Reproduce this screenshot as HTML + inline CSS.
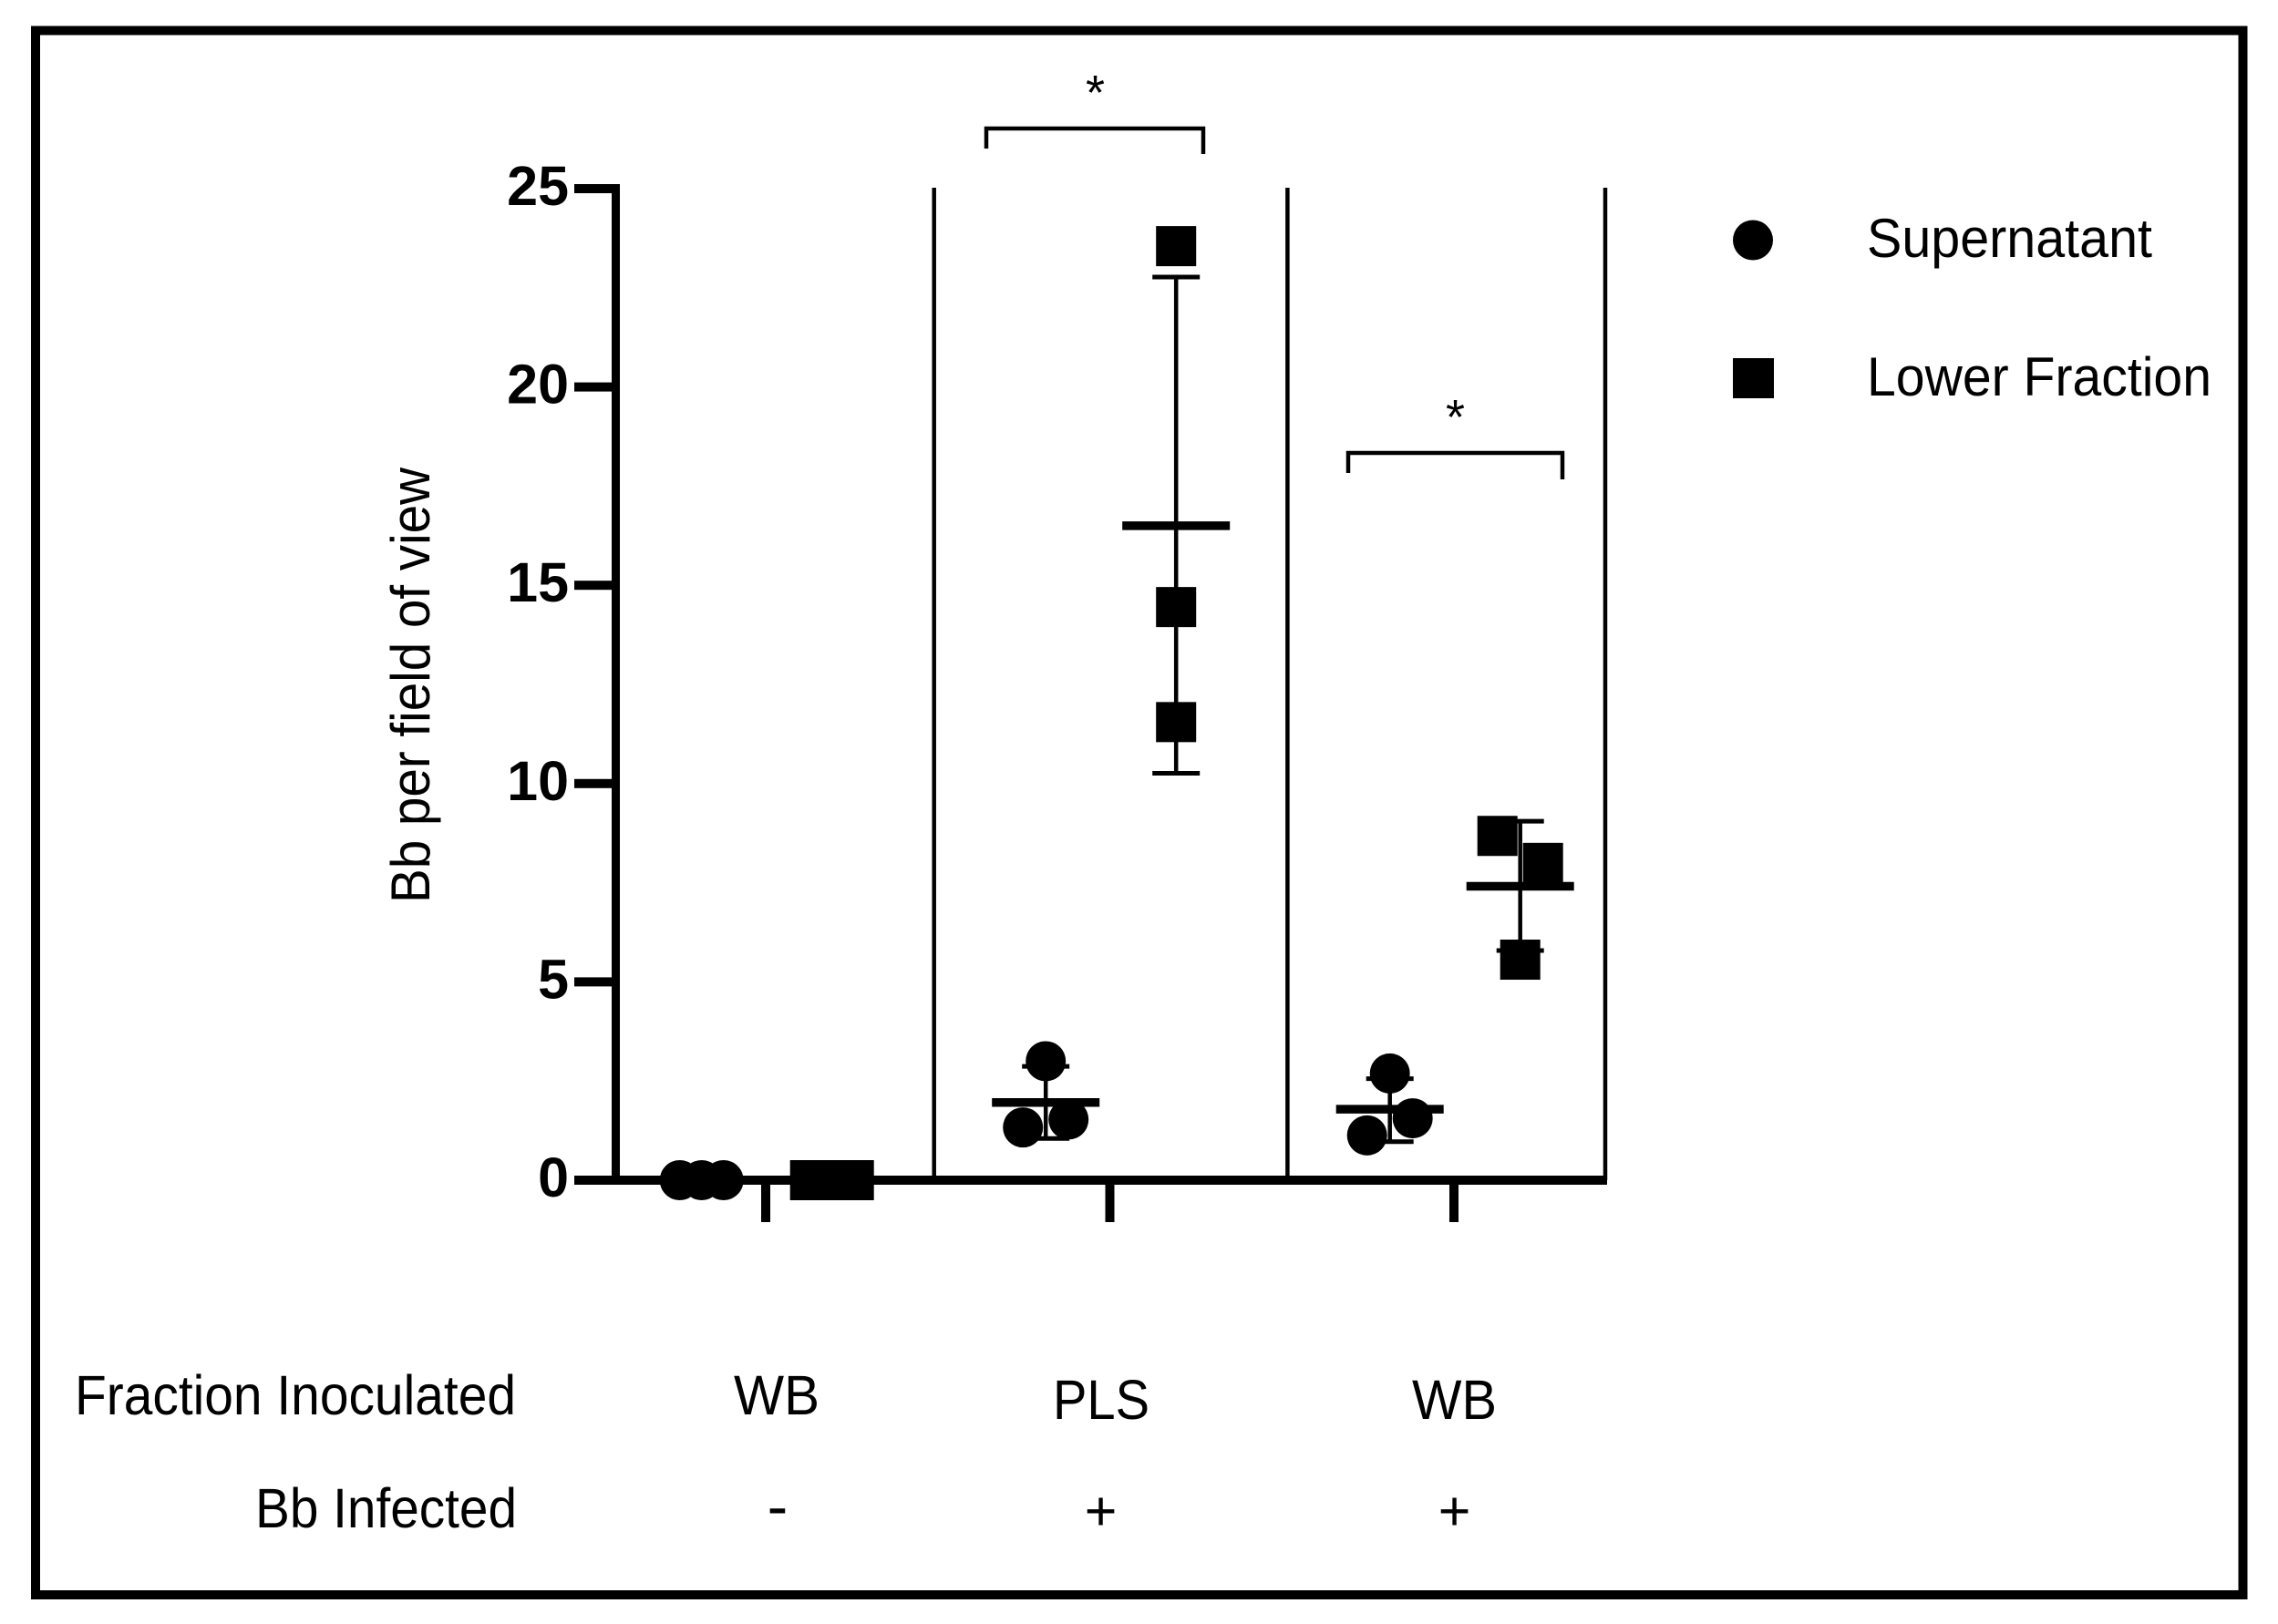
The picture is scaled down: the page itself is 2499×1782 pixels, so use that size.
<!DOCTYPE html>
<html lang="en">
<head>
<meta charset="utf-8">
<title>Bb per field of view</title>
<style>
html,body{margin:0;padding:0;background:#fff;}
svg{display:block;}
text{font-family:"Liberation Sans",Arial,sans-serif;fill:#000;}
</style>
</head>
<body>
<svg id="chart" xmlns="http://www.w3.org/2000/svg" width="2499" height="1782" viewBox="0 0 2499 1782">
  <rect x="0" y="0" width="2499" height="1782" fill="#fff"/>
  <rect x="39" y="33.500" width="2421.500" height="1716.500" fill="none" stroke="#000" stroke-width="10"/>
  <g id="axes"></g>
  <g id="marks"></g>

  <text transform="translate(471,991) rotate(-90)" font-size="60" textLength="478" lengthAdjust="spacingAndGlyphs">Bb per field of view</text>

  <g>
    <path d="M1082 163 V141 H1320 V169" fill="none" stroke="#000" stroke-width="4.500"/>
    <text x="1201.500" y="120" font-size="54" text-anchor="middle">*</text>
  </g>
  <g>
    <path d="M1479 519 V497 H1714 V526" fill="none" stroke="#000" stroke-width="4.500"/>
    <text x="1596.500" y="476" font-size="54" text-anchor="middle">*</text>
  </g>

  <g>
    <circle cx="1923" cy="263.500" r="22"/>
    <text x="2048" y="282" font-size="60" textLength="313" lengthAdjust="spacingAndGlyphs">Supernatant</text>
    <rect x="1901" y="393" width="45" height="44"/>
    <text x="2048" y="434" font-size="60" textLength="378" lengthAdjust="spacingAndGlyphs">Lower Fraction</text>
  </g>

  <g>
    <text x="82" y="1552" font-size="61" textLength="484" lengthAdjust="spacingAndGlyphs">Fraction Inoculated</text>
    <text x="280" y="1676" font-size="61" textLength="287" lengthAdjust="spacingAndGlyphs">Bb Infected</text>
    <text x="805" y="1552" font-size="61" textLength="94" lengthAdjust="spacingAndGlyphs">WB</text>
    <text x="1155" y="1557" font-size="61" textLength="106" lengthAdjust="spacingAndGlyphs">PLS</text>
    <text x="1549" y="1557" font-size="61" textLength="93" lengthAdjust="spacingAndGlyphs">WB</text>
    <text x="853" y="1676" font-size="68" text-anchor="middle">-</text>
    <text x="1207.500" y="1679" font-size="61" text-anchor="middle">+</text>
    <text x="1595.500" y="1679" font-size="61" text-anchor="middle">+</text>
  </g>
</svg>
<script>
// ---- chart data ----
const groups = ['WB -', 'PLS +', 'WB +'];
const seriesNames = ['Supernatant', 'Lower Fraction'];
const yTicks = [0, 5, 10, 15, 20, 25];

const supernatantValues = [
  [0, 0, 0],
  [3.0, 1.33, 1.53],
  [2.69, 1.13, 1.56]
];
const lowerFractionValues = [
  [0, 0, 0],
  [23.55, 14.45, 11.55],
  [8.68, 8.0, 5.56]
];
const supernatantMeans = [0, 1.96, 1.79];
const supernatantUpper = [0, 2.87, 2.56];
const supernatantLower = [0, 1.05, 0.97];
const lowerFractionMeans = [0, 16.5, 7.41];
const lowerFractionUpper = [0, 22.77, 9.05];
const lowerFractionLower = [0, 10.26, 5.79];

// ---- axis functions ----
const NS = 'http://www.w3.org/2000/svg';
const Y0 = 1295, Y_PER_UNIT = 43.52;
const GROUP_START = 840, GROUP_STEP = 377.5, SERIES_OFFSET = 71.5, MARK_SHIFT = 1.2;
function yScale(v) { return Y0 - v * Y_PER_UNIT; }
function groupX(g) { return GROUP_START + g * GROUP_STEP; }
function columnX(g, s) { return groupX(g) + MARK_SHIFT + (s === 0 ? -SERIES_OFFSET : SERIES_OFFSET); }

function make(tag, attrs, parent) {
  const el = document.createElementNS(NS, tag);
  for (const k in attrs) el.setAttribute(k, attrs[k]);
  parent.appendChild(el);
  return el;
}

// Markers that would overlap in a column are nudged sideways, in data order.
function dodgeOffsets(values) {
  const gap = 1.05;
  const offsets = values.map(() => 0);
  const order = values.map((v, i) => i).sort((a, b) => values[a] - values[b]);
  let cluster = [];
  function flush() {
    const ordered = cluster.slice().sort((a, b) => a - b);
    const step = ordered.length >= 3 ? 24 : 50;
    ordered.forEach((idx, j) => { offsets[idx] = (j - (ordered.length - 1) / 2) * step; });
    cluster = [];
  }
  order.forEach((idx) => {
    if (cluster.length && values[idx] - values[cluster[cluster.length - 1]] >= gap) flush();
    cluster.push(idx);
  });
  if (cluster.length) flush();
  return offsets;
}

const axes = document.getElementById('axes');
const marks = document.getElementById('marks');
const AXIS_X = 675.5;
const AXIS_RIGHT = 1763;
const PANEL_TOP = yScale(25);

// y axis
const yLine = make('rect', { x: AXIS_X - 4.5, y: PANEL_TOP - 5, width: 9, height: Y0 - PANEL_TOP + 10, fill: '#000' }, axes);



// x axis
const xLine = make('rect', { x: 630, y: Y0 - 5, width: AXIS_RIGHT - 630, height: 10, fill: '#000' }, axes);



yTicks.forEach((t) => {
  const tick = make('rect', { x: 630, y: yScale(t) - 5, width: 45, height: 10, fill: '#000' }, axes);
  
  
  const label = make('text', { x: 624, y: yScale(t) + 18, 'font-size': 61, 'font-weight': 'bold', 'text-anchor': 'end' }, axes);
  
  
  label.textContent = String(t);
});

groups.forEach((name, g) => {
  const tick = make('rect', { x: groupX(g) - 5, y: Y0, width: 10, height: 46, fill: '#000' }, axes);
  
  
});

// panel dividers sit between / after the infected groups
[1024.7, 1412.4, 1761].forEach((x, i) => {
  const line = make('line', { x1: x, x2: x, y1: PANEL_TOP - 1, y2: Y0, stroke: '#000', 'stroke-width': 4.5 }, axes);
  
  
});

function drawSeries(s, values, means, upper, lower) {
  groups.forEach((name, g) => {
    const cx = columnX(g, s);
    const group = make('g', {}, marks);
    
    

    const stem = make('line', { x1: cx, x2: cx, y1: yScale(upper[g]), y2: yScale(lower[g]), stroke: '#000', 'stroke-width': 4.5 }, group);
    
    

    const capTop = make('line', { x1: cx - 26, x2: cx + 26, y1: yScale(upper[g]), y2: yScale(upper[g]), stroke: '#000', 'stroke-width': 5 }, group);
    
    

    const capBottom = make('line', { x1: cx - 26, x2: cx + 26, y1: yScale(lower[g]), y2: yScale(lower[g]), stroke: '#000', 'stroke-width': 5 }, group);
    
    

    const meanLine = make('line', { x1: cx - 59, x2: cx + 59, y1: yScale(means[g]), y2: yScale(means[g]), stroke: '#000', 'stroke-width': 9.5 }, group);
    
    

    const offsets = dodgeOffsets(values[g]);
    values[g].forEach((v, i) => {
      const px = cx + offsets[i];
      const py = yScale(v);
      let point;
      if (s === 0) {
        point = make('circle', { cx: px, cy: py, r: 22, fill: '#000' }, group);
      } else {
        point = make('rect', { x: px - 22, y: py - 22, width: 44, height: 44, fill: '#000' }, group);
      }
      
      
    });
  });
}

drawSeries(0, supernatantValues, supernatantMeans, supernatantUpper, supernatantLower);
drawSeries(1, lowerFractionValues, lowerFractionMeans, lowerFractionUpper, lowerFractionLower);
</script>
</body>
</html>
